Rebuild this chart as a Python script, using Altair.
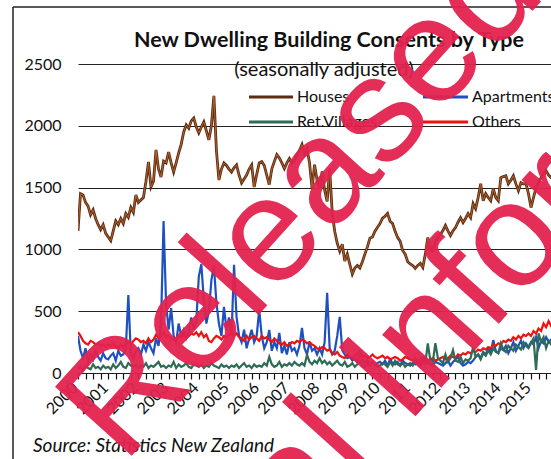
import altair as alt
import pandas as pd

# Monthly values, Jan 2000 .. Dec 2015
houses = [
    1150, 1450, 1440, 1380, 1350, 1280, 1320, 1250, 1200, 1160, 1200, 1130,
    1100, 1070, 1150, 1230, 1200, 1250, 1210, 1290, 1260, 1340, 1300, 1440,
    1380, 1400, 1420, 1550, 1707, 1505, 1550, 1805, 1650, 1586, 1714, 1700,
    1788, 1700, 1626, 1700, 1780, 1850, 1950, 2007, 1980, 2040, 2063, 1990,
    1942, 1990, 2031, 1960, 1886, 2000, 2242, 1800, 1561, 1650, 1699, 1680,
    1650, 1626, 1660, 1683, 1600, 1537, 1570, 1602, 1650, 1683, 1505, 1606,
    1699, 1710, 1680, 1600, 1525, 1650, 1710, 1767, 1740, 1700, 1654, 1700,
    1735, 1700, 1720, 1767, 1800, 1848, 1775, 1815, 1700, 1493, 1686, 1560,
    1493, 1630, 1480, 1388, 1654, 1300, 1147, 1050, 986, 1042, 905, 962,
    880, 800, 850, 870, 850, 900, 962, 1020, 1091, 1100, 1147, 1180,
    1209, 1252, 1268, 1290, 1228, 1209, 1147, 1096, 1067, 991, 962, 900,
    882, 870, 846, 870, 887, 854, 960, 1096, 1000, 991, 1060, 1096,
    1120, 1153, 1193, 1150, 1112, 1150, 1177, 1220, 1257, 1217, 1250, 1290,
    1257, 1370, 1330, 1420, 1531, 1394, 1451, 1420, 1394, 1491, 1420, 1394,
    1580, 1590, 1596, 1531, 1560, 1596, 1530, 1475, 1540, 1530, 1531, 1450,
    1338, 1420, 1499, 1540, 1580, 1610, 1636, 1600, 1580, 1620, 1600, 1640,
]
apartments = [
    300, 180, 120, 200, 90, 150, 110, 180, 130, 100, 160, 120,
    110, 140, 160, 100, 180, 140, 150, 200, 630, 150, 120, 180,
    200, 150, 230, 180, 250, 200, 160, 280, 220, 400, 1230, 560,
    350, 526, 300, 250, 400, 300, 350, 280, 330, 450, 350, 420,
    780, 880, 590, 400, 500, 750, 870, 567, 400, 300, 535, 350,
    450, 300, 875, 454, 300, 250, 350, 200, 280, 350, 250, 300,
    510, 300, 200, 250, 348, 180, 250, 200, 324, 160, 220, 150,
    250, 180, 200, 150, 220, 364, 200, 150, 250, 180, 200, 150,
    200, 150, 250, 648, 200, 150, 180, 300, 454, 185, 150, 120,
    130, 100, 120, 90, 185, 110, 80, 100, 70, 90, 60, 80,
    90, 70, 100, 60, 110, 80, 70, 90, 60, 100, 80, 70,
    60, 80, 70, 100, 60, 90, 110, 80, 70, 60, 90, 80,
    70, 60, 80, 100, 60, 90, 110, 130, 80, 60, 70, 90,
    80, 100, 130, 150, 120, 170, 150, 200, 170, 266, 180, 160,
    200, 185, 220, 160, 200, 250, 180, 220, 260, 200, 240, 210,
    250, 230, 290, 200, 260, 240, 290, 250, 270, 230, 280, 260,
]
ret_villages = [
    30, 50, 20, 60, 40, 30, 70, 40, 50, 30, 60, 40,
    50, 30, 70, 40, 60, 90, 50, 40, 80, 60, 50, 70,
    40, 60, 50, 80, 40, 60, 50, 70, 90, 50, 60, 40,
    60, 50, 90, 40, 70, 50, 60, 80, 50, 40, 70, 60,
    50, 70, 40, 60, 50, 80, 60, 50, 40, 70, 50, 60,
    40, 60, 50, 70, 40, 60, 80, 50, 60, 40, 70, 50,
    60, 50, 80, 60, 130, 70, 50, 60, 90, 50, 70, 60,
    80, 60, 90, 70, 60, 80, 60, 146, 90, 70, 100, 80,
    120, 80, 100, 70, 90, 60, 80, 100, 70, 60, 90, 50,
    60, 80, 50, 70, 100, 60, 50, 80, 60, 90, 70, 50,
    60, 80, 70, 50, 90, 60, 100, 70, 60, 80, 50, 70,
    80, 60, 110, 70, 90, 120, 80, 240, 100, 90, 242, 120,
    100, 80, 150, 90, 120, 185, 100, 90, 130, 80, 110, 100,
    120, 210, 130, 150, 110, 160, 140, 180, 150, 200, 170, 160,
    240, 190, 170, 220, 200, 180, 230, 210, 190, 250, 220, 200,
    240, 280, 25, 322, 250, 290, 202, 260, 230, 280, 250, 270,
]
others = [
    330, 300, 260, 240, 230, 260, 250, 230, 240, 220, 230, 210,
    230, 220, 240, 210, 200, 230, 210, 240, 250, 230, 260, 280,
    270, 250, 260, 240, 280, 250, 270, 310, 280, 300, 330, 290,
    300, 270, 280, 260, 300, 290, 310, 280, 300, 320, 310, 330,
    300, 330, 290, 310, 260, 250, 280, 300, 290, 270, 300, 290,
    310, 330, 300, 320, 290, 280, 260, 300, 270, 290, 300, 280,
    260, 300, 280, 290, 270, 250, 280, 260, 240, 230, 250, 220,
    230, 250, 240, 260, 250, 270, 260, 240, 250, 230, 220, 200,
    190, 210, 200, 180, 190, 160, 150, 170, 140, 130, 120, 150,
    130, 120, 140, 160, 150, 130, 140, 120, 130, 150, 130, 120,
    130, 140, 120, 130, 110, 120, 130, 120, 100, 110, 130, 120,
    110, 100, 120, 100, 110, 130, 110, 100, 110, 120, 100, 110,
    120, 130, 110, 120, 140, 130, 120, 150, 140, 160, 150, 170,
    160, 180, 170, 190, 180, 200, 190, 210, 200, 230, 220, 240,
    230, 260, 250, 270, 260, 290, 270, 300, 280, 310, 300, 320,
    300, 340, 320, 360, 340, 400, 370, 420, 380, 400, 420, 430,
]

series_names = ["Houses", "Apartments", "Ret.Villages", "Others"]
series_colors = ["#5b2c12", "#1f50c0", "#2f6b55", "#f01010"]
year_labels = list(range(2000, 2016))
y_ticks = [0, 500, 1000, 1500, 2000, 2500]

title_text = "New Dwelling  Building Consents by Type"
subtitle_text = "(seasonally adjusted)"
source_text = "Source: Statistics New Zealand"
stamp_line1 = "Released under the"
stamp_line2 = "Official Information Act"

rows = []
for name, vals in zip(series_names, [houses, apartments, ret_villages, others]):
    for i, v in enumerate(vals):
        rows.append({"t": 2000 + i / 12, "value": v, "series": name})
df = pd.DataFrame(rows)

W, H = 473, 309
PX_PER_YEAR = 30.2
x_max = 2000 + W / PX_PER_YEAR
quarters = [2000 + q / 4 for q in range(0, 63) if 2000 + q / 4 <= x_max]

color_scale = alt.Scale(domain=series_names, range=series_colors)

x_enc = alt.X(
    "t:Q",
    scale=alt.Scale(domain=[2000, x_max], nice=False, zero=False),
    axis=alt.Axis(
        values=quarters,
        labelExpr="datum.value % 1 == 0 ? format(datum.value, 'd') : ''",
        labelAngle=315,
        labelAlign="right",
        labelBaseline="middle",
        labelPadding=6,
        labelOffset=-3,
        labelFont="Lato",
        labelFontSize=16,
        labelColor="#111",
        tickSize=6,
        tickColor="#111",
        tickWidth=1.2,
        domain=False,
        grid=False,
        title=None,
        labelOverlap=False,
        labelBound=False,
    ),
)
y_enc = alt.Y(
    "value:Q",
    scale=alt.Scale(domain=[0, 2500], nice=False),
    axis=alt.Axis(
        values=y_ticks,
        format="d",
        grid=True,
        gridColor="#222",
        gridWidth=1,
        domain=False,
        ticks=False,
        labelPadding=17,
        labelFont="Lato",
        labelFontSize=16,
        labelColor="#111",
        title=None,
    ),
)

layers = []
for name in ["Apartments", "Others", "Ret.Villages", "Houses"]:
    layers.append(
        alt.Chart(df[df.series == name])
        .mark_line(strokeWidth=2.2 if name != "Houses" else 2.8, clip=True)
        .encode(x=x_enc, y=y_enc, color=alt.Color("series:N", scale=color_scale, legend=None))
    )
houses_inner = (
    alt.Chart(df[df.series == "Houses"])
    .mark_line(strokeWidth=1.0, color="#b0622e", clip=True)
    .encode(x=x_enc, y=y_enc)
)
layers.append(houses_inner)

# Legend drawn as two rows of entries (Excel style: line sample then label)
legend_df = pd.DataFrame({
    "series": ["Houses", "Apartments", "Ret.Villages", "Others"],
    "x0": [249 - 78, 423 - 78, 249 - 78, 423 - 78],
    "x1": [293 - 78, 468 - 78, 293 - 78, 468 - 78],
    "ly": [97 - 64, 97 - 64, 122 - 64, 122 - 64],
})
legend_lines = alt.Chart(legend_df).mark_rule(strokeWidth=2.8).encode(
    x=alt.X("x0:Q", scale=None), x2="x1:Q", y=alt.Y("ly:Q", scale=None),
    color=alt.Color("series:N", scale=color_scale, legend=None),
)
legend_text = alt.Chart(legend_df).mark_text(
    font="Lato", fontSize=16, color="#111", align="left", baseline="middle", dx=4
).encode(x=alt.X("x1:Q", scale=None), y=alt.Y("ly:Q", scale=None), text="series:N")

ann = pd.DataFrame({"k": [0]})
title = alt.Chart(ann).mark_text(
    text=title_text, font="Lato", fontSize=21.5, fontWeight="bold", color="#111",
    align="center", baseline="alphabetic"
).encode(x=alt.value(251), y=alt.value(-17))
subtitle = alt.Chart(ann).mark_text(
    text=subtitle_text, font="Lato", fontSize=20, color="#111",
    align="center", baseline="alphabetic"
).encode(x=alt.value(246), y=alt.value(12))
source = alt.Chart(ann).mark_text(
    text=source_text, font="Lato", fontSize=19, fontStyle="italic", color="#111",
    align="left", baseline="alphabetic"
).encode(x=alt.value(-45), y=alt.value(388))
frame_left = alt.Chart(ann).mark_rule(color="#222", strokeWidth=1.5).encode(
    x=alt.value(-65), y=alt.value(-57), y2=alt.value(400)
)
frame_top = alt.Chart(ann).mark_rule(color="#222", strokeWidth=1.5).encode(
    x=alt.value(-65), x2=alt.value(480), y=alt.value(-57)
)
stamp1 = alt.Chart(ann).mark_text(
    text=stamp_line1, font="Liberation Sans", fontSize=150, color="#e3224f",
    angle=312, align="left", baseline="middle", opacity=0.95
).encode(x=alt.value(90 - 78), y=alt.value(435 - 64))
stamp2 = alt.Chart(ann).mark_text(
    text=stamp_line2, font="Liberation Sans", fontSize=150, color="#e3224f",
    angle=312, align="left", baseline="middle", opacity=0.95
).encode(x=alt.value(40 - 78), y=alt.value(766 - 64))

chart = (
    alt.layer(frame_left, frame_top, *layers, legend_lines, legend_text,
              title, subtitle, source, stamp1, stamp2)
    .properties(
        width=W,
        height=H,
        padding={"left": 78, "top": 64, "right": 0, "bottom": 459 - 64 - H},
        autosize=alt.AutoSizeParams(type="none"),
        background="white",
    )
    .configure_view(stroke=None)
)

chart.save("out.html", embed_options={"renderer": "svg", "actions": False})
